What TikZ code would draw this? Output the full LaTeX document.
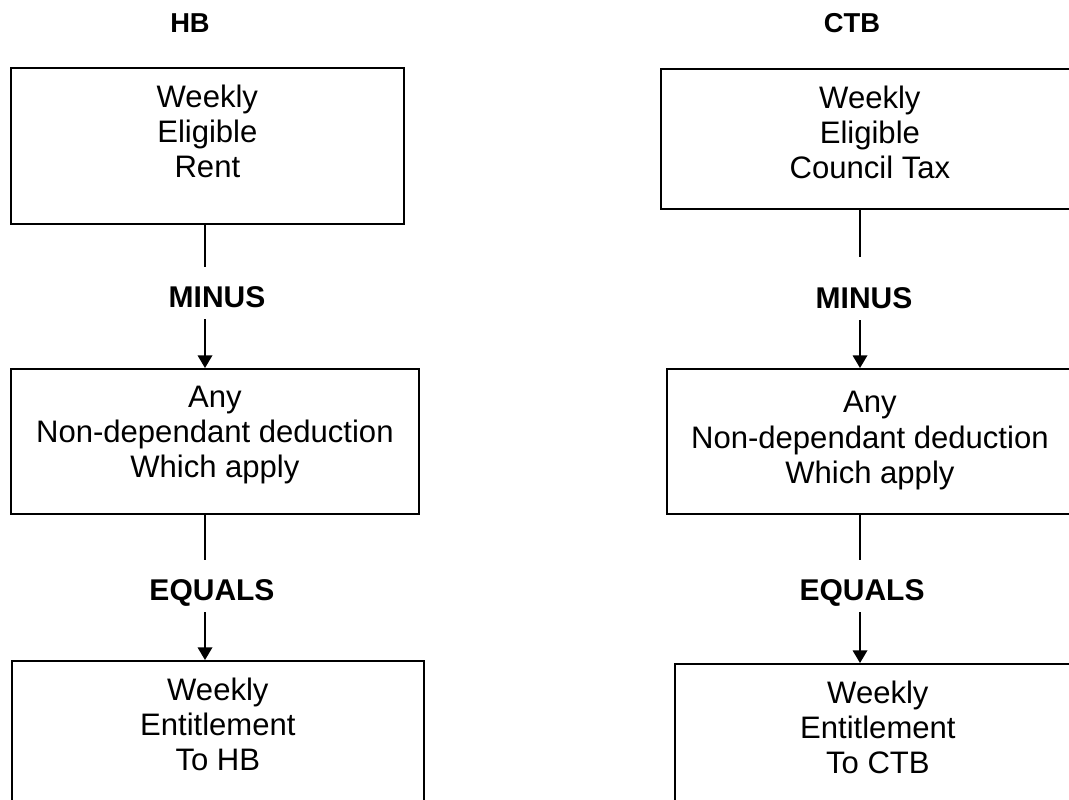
\documentclass[tikz,border=0pt]{standalone}
\usepackage{fontspec}
\setmainfont{Liberation Sans}
\usetikzlibrary{arrows.meta, positioning}
\newcommand{\pxu}{0.75pt}

\tikzset{
  benbox/.style={draw, line width=1.3pt, inner sep=0pt, anchor=north west},
  boxtext/.style={anchor=north, align=center, inner sep=0pt, yshift=-13.5pt, font=\fontsize{23.3}{26.3}\selectfont},
  optext/.style={anchor=base, inner sep=0pt, text height=30pt, text depth=9pt, font=\fontsize{22.5}{26}\selectfont\bfseries},
  coltitle/.style={inner sep=0pt, font=\fontsize{20.5}{24}\selectfont\bfseries},
  flow/.style={line width=1pt},
  flowarrow/.style={line width=1pt, -{Triangle[width=11pt,length=9.5pt]}},
}

\begin{document}
\begin{tikzpicture}[x=0.75pt, y=-0.75pt]
  \useasboundingbox (0,0) rectangle (1069,799);
  \clip (0,0) rectangle (1069,799);
  % column axes
  \coordinate (axisL) at (205,0);
  \coordinate (axisR) at (860,0);

  % HB column
  \node[coltitle] (titleL) at (190,23) {HB};
  \node[benbox, minimum width=393*\pxu, minimum height=156*\pxu,
        label={[boxtext]north:Weekly\\Eligible\\Rent}] (rentL) at (10,67) {};
  \node[optext] (minusL) at (217,307) {MINUS};
  \node[benbox, minimum width=408*\pxu, minimum height=145*\pxu,
        label={[boxtext]north:Any\\Non-dependant deduction\\Which apply}] (dedL) at (10,368) {};
  \node[optext] (equalsL) at (212,600) {EQUALS};
  \node[benbox, minimum width=412*\pxu, minimum height=200*\pxu,
        label={[boxtext]north:Weekly\\Entitlement\\To HB}] (entL) at (11,660) {};

  % CTB column
  \node[coltitle] (titleR) at (852,23) {CTB};
  \node[benbox, minimum width=418*\pxu, minimum height=140*\pxu,
        label={[boxtext]north:Weekly\\Eligible\\Council Tax}] (taxR) at (660,68) {};
  \node[optext, text height=38.25pt] (minusR) at (864,308) {MINUS};
  \node[benbox, minimum width=406*\pxu, minimum height=145*\pxu,
        label={[boxtext, yshift=-4pt]north:Any\\Non-dependant deduction\\Which apply}] (dedR) at (666,368) {};
  \node[optext] (equalsR) at (862,600) {EQUALS};
  \node[benbox, minimum width=406*\pxu, minimum height=200*\pxu,
        label={[boxtext]north:Weekly\\Entitlement\\To CTB}] (entR) at (674,663) {};

  % connectors
  \draw[flow] (axisL |- rentL.south) -- (axisL |- minusL.north);
  \draw[flowarrow] (axisL |- minusL.south) -- (axisL |- dedL.north);
  \draw[flow] (axisL |- dedL.south) -- (axisL |- equalsL.north);
  \draw[flowarrow] (axisL |- equalsL.south) -- (axisL |- entL.north);

  \draw[flow] (axisR |- taxR.south) -- (axisR |- minusR.north);
  \draw[flowarrow] (axisR |- minusR.south) -- (axisR |- dedR.north);
  \draw[flow] (axisR |- dedR.south) -- (axisR |- equalsR.north);
  \draw[flowarrow] (axisR |- equalsR.south) -- (axisR |- entR.north);
\end{tikzpicture}
\end{document}
